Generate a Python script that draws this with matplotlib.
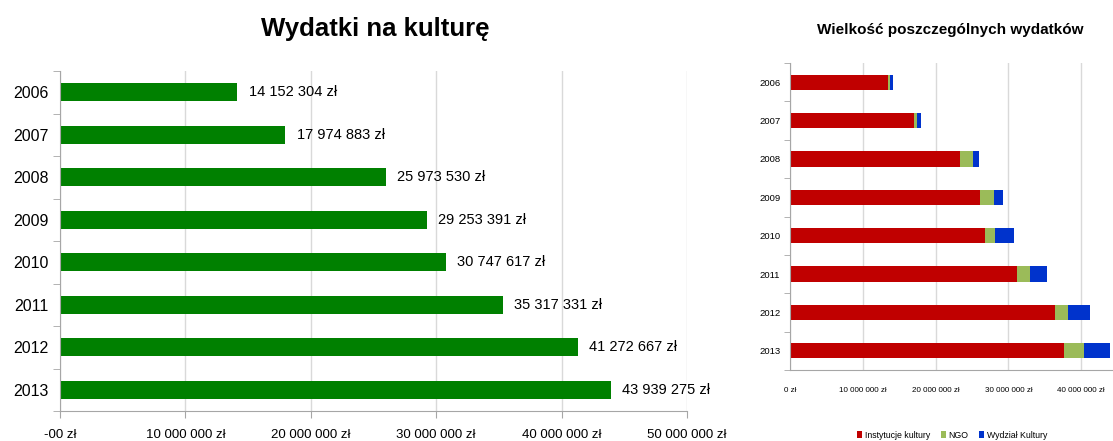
import matplotlib
matplotlib.use("Agg")
import matplotlib.pyplot as plt
import numpy as np
from matplotlib.ticker import FixedLocator

plt.rcParams["font.family"] = ["Liberation Sans", "DejaVu Sans"]

# dane
lata = ["2006", "2007", "2008", "2009", "2010", "2011", "2012", "2013"]
wydatki = [14152304, 17974883, 25973530, 29253391, 30747617, 35317331, 41272667, 43939275]
etykiety_wydatkow = ["14 152 304 zł", "17 974 883 zł", "25 973 530 zł", "29 253 391 zł",
                     "30 747 617 zł", "35 317 331 zł", "41 272 667 zł", "43 939 275 zł"]
os_x_lewa = ["-00 zł", "10 000 000 zł", "20 000 000 zł", "30 000 000 zł", "40 000 000 zł", "50 000 000 zł"]

instytucje = [13.43e6, 17.0e6, 23.4e6, 26.1e6, 26.8e6, 31.2e6, 36.45e6, 37.6e6]
ngo = [0.33e6, 0.5e6, 1.8e6, 1.9e6, 1.4e6, 1.7e6, 1.8e6, 2.75e6]
wydzial = [0.39e6, 0.47e6, 0.8e6, 1.25e6, 2.55e6, 2.4e6, 3.0e6, 3.6e6]
os_x_prawa = ["0 zł", "10 000 000 zł", "20 000 000 zł", "30 000 000 zł", "40 000 000 zł"]
nazwy_serii = ["Instytucje kultury", "NGO", "Wydział Kultury"]

W, H = 1113, 441
fig = plt.figure(figsize=(W / 100, H / 100), dpi=100)


def px_axes(x0, y0, x1, y1):
    # prostokat w pikselach (gora-lewo) -> osie
    return fig.add_axes([x0 / W, 1 - y1 / H, (x1 - x0) / W, (y1 - y0) / H])


def styl_osi(ax, n):
    for s in ["top", "right"]:
        ax.spines[s].set_visible(False)
    ax.spines["left"].set_color("#a6a6a6")
    ax.spines["bottom"].set_color("#a6a6a6")
    ax.grid(axis="x", color="#d9d9d9", linewidth=1)
    ax.set_axisbelow(True)
    ax.set_ylim(n - 0.5, -0.5)
    ax.yaxis.set_minor_locator(FixedLocator(np.arange(-0.5, n, 1.0)))
    ax.tick_params(axis="y", which="major", length=0)
    ax.tick_params(axis="y", which="minor", length=5, color="#a6a6a6")
    ax.tick_params(axis="x", length=5, color="#a6a6a6")


# wykres lewy
y = np.arange(len(lata))
ax1 = px_axes(60, 71, 687, 411)
ax1.barh(y, wydatki, height=0.42, color="#008000")
for i in range(len(lata)):
    ax1.text(wydatki[i] + 0.9e6, y[i], etykiety_wydatkow[i], va="center", ha="left", fontsize=10.5)
ax1.set_xlim(0, 50e6)
ax1.set_xticks(np.arange(0, 50e6 + 1, 10e6))
ax1.set_xticklabels(os_x_lewa, fontsize=9.5)
ax1.set_yticks(y)
ax1.set_yticklabels(lata, fontsize=11.5)
styl_osi(ax1, len(lata))
ax1.tick_params(axis="x", pad=8)
ax1.tick_params(axis="y", pad=8)
fig.text(375 / W, 1 - 29 / H, "Wydatki na kulturę", ha="center", va="center", fontsize=18.5, fontweight="bold")

# wykres prawy
ax2 = px_axes(790, 63, 790 + 327.6, 370)
lewo = np.zeros(len(lata))
kolory = ["#c00000", "#9bbb59", "#0033cc"]
for seria, kolor, nazwa in zip([instytucje, ngo, wydzial], kolory, nazwy_serii):
    ax2.barh(y, seria, left=lewo, height=0.4, color=kolor, label=nazwa)
    lewo = lewo + np.array(seria)
ax2.set_xlim(0, 45e6)
ax2.set_xticks(np.arange(0, 40e6 + 1, 10e6))
ax2.set_xticklabels(os_x_prawa, fontsize=5.8)
ax2.set_yticks(y)
ax2.set_yticklabels(lata, fontsize=6.8)
styl_osi(ax2, len(lata))
ax2.tick_params(axis="x", length=0, pad=12)
ax2.tick_params(axis="y", which="minor", length=4)
ax2.tick_params(axis="y", pad=7)
fig.text(950 / W, 1 - 30 / H, "Wielkość poszczególnych wydatków", ha="center", va="center",
         fontsize=11, fontweight="bold")
fig.legend(loc="center", bbox_to_anchor=(952 / W, 1 - 435 / H), ncol=3, frameon=False, fontsize=6.3,
           handlelength=0.6, handleheight=0.8, handletextpad=0.3, columnspacing=1.2)

fig.savefig("out.png", dpi=100)
